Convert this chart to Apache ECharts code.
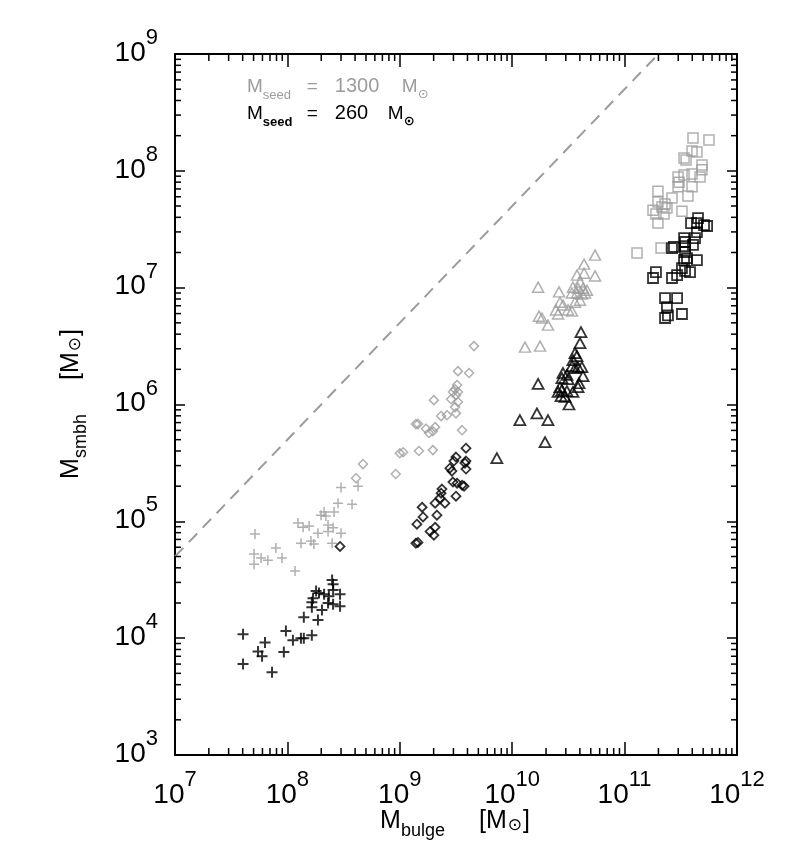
<!DOCTYPE html>
<html>
<head>
<meta charset="utf-8">
<script src="https://cdn.jsdelivr.net/npm/echarts@6/dist/echarts.min.js"></script>
<style>html,body{margin:0;padding:0;background:#fff;}#c{width:786px;height:866px;}</style>
</head>
<body>
<div id="c"></div>
<script>
// ---- tick exponents (labels 10^n) ----
const X_EXP = [7, 8, 9, 10, 11, 12];
const Y_EXP = [3, 4, 5, 6, 7, 8, 9];

// ---- data: [M_bulge, M_smbh] ----
const grayPlus = [
[3.0e8,1.95e5],[4.25e8,2.0e5],[2.82e8,1.43e5],[3.76e8,1.4e5],[2.12e8,1.2e5],[1.99e8,1.13e5],[2.2e8,1.11e5],[2.6e8,1.2e5],[1.24e8,9.7e4],[1.38e8,8.9e4],[1.56e8,9.1e4],[2.3e8,9.3e4],[2.55e8,8.8e4],[2.3e8,8.2e4],[3.0e8,7.9e4],[1.87e8,7.9e4],[5.15e7,7.8e4],[1.32e8,6.5e4],[1.62e8,6.8e4],[1.72e8,6.4e4],[2.5e8,6.5e4],[7.9e7,5.9e4],[5.05e7,5.25e4],[5.83e7,4.85e4],[6.7e7,4.65e4],[8.95e7,4.85e4],[5.05e7,4.3e4],[1.17e8,3.75e4]
];
const blackPlus = [
[2.5e8,3.14e4],[2.55e8,2.9e4],[1.8e8,2.53e4],[1.91e8,2.43e4],[2.12e8,2.38e4],[2.34e8,2.29e4],[2.55e8,2.58e4],[2.94e8,2.38e4],[1.69e8,2.2e4],[1.65e8,2.03e4],[1.65e8,1.84e4],[2.03e8,1.74e4],[2.3e8,2.0e4],[2.55e8,1.95e4],[2.94e8,1.88e4],[1.4e8,1.51e4],[1.87e8,1.43e4],[4.03e7,1.08e4],[6.32e7,9.2e3],[9.7e7,1.15e4],[1.12e8,9.6e3],[1.32e8,1.0e4],[1.4e8,1.0e4],[1.65e8,1.06e4],[5.48e7,7.7e3],[5.95e7,7.0e3],[9.3e7,7.6e3],[4.03e7,6.0e3],[7.3e7,5.1e3]
];
const grayDiamond = [
[4.57e9,3.16e6],[3.29e9,1.93e6],[4.13e9,1.86e6],[3.23e9,1.47e6],[3.1e9,1.35e6],[2.97e9,1.28e6],[3.29e9,1.28e6],[3.16e9,1.2e6],[2.01e9,1.09e6],[2.86e9,1.11e6],[3.29e9,1.05e6],[2.33e9,7.96e5],[2.63e9,8.1e5],[3.16e9,8.4e5],[3.1e9,9.5e5],[1.39e9,6.8e5],[1.45e9,6.8e5],[1.71e9,6.2e5],[1.82e9,5.7e5],[2.06e9,6.4e5],[1.97e9,5.9e5],[3.58e9,6.03e5],[1.0e9,3.83e5],[1.07e9,3.9e5],[1.48e9,4.0e5],[1.97e9,4.07e5],[9.2e8,2.54e5],[4.7e8,3.09e5],[4.08e8,2.34e5]
];
const blackDiamond = [
[3.88e9,4.23e5],[3.16e9,3.55e5],[3.03e9,3.28e5],[3.88e9,3.28e5],[3.8e9,3.15e5],[2.79e9,2.85e5],[2.91e9,2.69e5],[3.88e9,2.8e5],[2.97e9,2.17e5],[3.23e9,2.12e5],[3.73e9,2.0e5],[3.58e9,2.04e5],[3.16e9,1.64e5],[2.37e9,1.89e5],[2.33e9,1.74e5],[2.06e9,1.43e5],[2.52e9,1.43e5],[2.28e9,1.58e5],[1.58e9,1.32e5],[1.61e9,1.09e5],[2.14e9,1.13e5],[1.42e9,9.45e4],[1.86e9,8.2e4],[2.06e9,8.9e4],[2.01e9,7.6e4],[1.39e9,6.5e4],[1.45e9,6.6e4],[2.94e8,6.1e4]
];
const grayTriangle = [
[5.46e10,1.9e7],[4.36e10,1.59e7],[3.77e10,1.28e7],[4.36e10,1.33e7],[5.46e10,1.26e7],[1.7e10,1.01e7],[4.01e10,1.12e7],[3.47e10,1.01e7],[3.85e10,9.9e6],[4.27e10,9.9e6],[4.63e10,9.5e6],[3.4e10,9.0e6],[3.77e10,9.0e6],[4.17e10,8.8e6],[4.44e10,9.0e6],[2.61e10,9.2e6],[4.01e10,7.8e6],[3.62e10,7.5e6],[2.66e10,7.5e6],[2.83e10,7.1e6],[2.45e10,6.45e6],[2.56e10,5.95e6],[3.14e10,6.45e6],[3.4e10,6.3e6],[1.73e10,5.7e6],[1.84e10,5.5e6],[2.08e10,4.78e6],[1.3e10,3.1e6],[1.77e10,3.16e6]
];
const blackTriangle = [
[4.09e10,4.17e6],[4.01e10,3.35e6],[3.62e10,2.75e6],[3.77e10,2.6e6],[3.47e10,2.4e6],[3.4e10,2.13e6],[3.85e10,2.09e6],[4.17e10,2.09e6],[3.62e10,2.05e6],[4.27e10,1.75e6],[2.83e10,1.86e6],[3.07e10,1.79e6],[2.77e10,1.68e6],[3.14e10,1.65e6],[1.7e10,1.5e6],[3.93e10,1.52e6],[3.85e10,1.41e6],[2.66e10,1.41e6],[2.77e10,1.33e6],[2.56e10,1.28e6],[3.07e10,1.3e6],[3.47e10,1.28e6],[2.72e10,1.18e6],[2.95e10,1.16e6],[3.2e10,1.0e6],[1.17e10,7.35e5],[1.66e10,8.4e5],[2.08e10,7.35e5],[1.96e10,4.77e5],[7.3e9,3.47e5]
];
const graySquare = [
[4.06e11,1.91e8],[5.63e11,1.84e8],[3.98e11,1.48e8],[4.4e11,1.45e8],[3.38e11,1.29e8],[3.52e11,1.24e8],[4.88e11,1.12e8],[4.88e11,1.02e8],[3.98e11,9.4e7],[4.69e11,8.85e7],[2.99e11,8.85e7],[3.05e11,8.0e7],[2.99e11,7.3e7],[3.38e11,9.2e7],[3.98e11,7.3e7],[3.66e11,6.1e7],[1.98e11,6.7e7],[2.64e11,5.85e7],[1.98e11,5.4e7],[2.29e11,5.2e7],[2.15e11,4.9e7],[2.38e11,4.8e7],[1.79e11,4.6e7],[1.9e11,4.27e7],[2.24e11,4.27e7],[1.98e11,3.57e7],[3.24e11,4.5e7],[1.29e11,1.98e7],[2.11e11,2.18e7]
];
const blackSquare = [
[4.5e11,3.94e7],[5.09e11,3.43e7],[4.4e11,3.57e7],[3.9e11,3.57e7],[4.4e11,2.99e7],[5.42e11,3.37e7],[4.23e11,2.66e7],[4.06e11,2.32e7],[3.38e11,2.66e7],[3.45e11,2.46e7],[3.45e11,2.27e7],[2.75e11,2.23e7],[2.64e11,2.18e7],[3.45e11,2.02e7],[4.4e11,1.72e7],[3.38e11,1.72e7],[3.59e11,1.79e7],[3.24e11,1.47e7],[3.45e11,1.39e7],[3.82e11,1.36e7],[2.93e11,1.28e7],[2.64e11,1.21e7],[1.9e11,1.36e7],[1.79e11,1.21e7],[2.29e11,8.15e6],[2.93e11,8.15e6],[2.38e11,6.8e6],[3.24e11,5.95e6],[2.29e11,5.5e6],[2.43e11,5.8e6]
];
// dashed reference relation M_smbh = 0.005 M_bulge
const refLine = [[1e7, 5e4], [2e11, 1e9]];

const GRAY = '#9c9c9c';
const BLACK = '#000000';
const FONT = '"Liberation Sans", "DejaVu Sans", sans-serif';
const SYMF = '"DejaVu Sans", sans-serif';

const xMin = Math.pow(10, X_EXP[0]), xMax = Math.pow(10, X_EXP[X_EXP.length - 1]);
const yMin = Math.pow(10, Y_EXP[0]), yMax = Math.pow(10, Y_EXP[Y_EXP.length - 1]);

// minor tick values (2..9 x 10^n)
const xMinor = [], yMinor = [];
for (let i = 0; i < X_EXP.length - 1; i++) for (let m = 2; m <= 9; m++) xMinor.push(m * Math.pow(10, X_EXP[i]));
for (let i = 0; i < Y_EXP.length - 1; i++) for (let m = 2; m <= 9; m++) yMinor.push(m * Math.pow(10, Y_EXP[i]));

const PLUS = 'path://M0,5L10,5M5,0L5,10';

const labelRich = {
  b: { fontSize: 28, lineHeight: 28, fontFamily: FONT, color: '#000', verticalAlign: 'bottom' },
  e: { fontSize: 22, lineHeight: 22, fontFamily: FONT, color: '#000', verticalAlign: 'bottom', padding: [0, 0, 18, 0] }
};
const fmt = v => '{b|10}{e|' + Math.round(Math.log10(v)) + '}';

function scatter(name, data, symbol, size, color, bw) {
  return {
    name, type: 'scatter', data, symbol, symbolSize: size,
    itemStyle: { color: 'rgba(0,0,0,0)', borderColor: color, borderWidth: bw },
    emphasis: { disabled: true }, silent: true, z: 3
  };
}

function titleRich(color) {
  return {
    m: { fontSize: 25, lineHeight: 25, fontFamily: FONT, fill: color, color: color, verticalAlign: 'bottom', padding: [0, 0, 7, 0] },
    s: { fontSize: 18, lineHeight: 18, fontFamily: FONT, fill: color, color: color, verticalAlign: 'bottom' },
    g: { fontSize: 18, lineHeight: 18, width: 34 },
    o: { fontSize: 17, lineHeight: 17, fontFamily: SYMF, fill: color, color: color, verticalAlign: 'bottom', padding: [0, 1, 6, 1] }
  };
}
function legendRich(color, numW, bold) {
  return {
    m: { fontSize: 19, lineHeight: 19, fontFamily: FONT, fill: color, color: color, verticalAlign: 'bottom', padding: [0, 0, 6, 0] },
    s: { fontSize: 13, lineHeight: 13, width: 44, fontFamily: FONT, fontWeight: bold ? 'bold' : 'normal', fill: color, color: color, verticalAlign: 'bottom' },
    q: { fontSize: 19, lineHeight: 19, width: 28, fontFamily: FONT, fill: color, color: color, verticalAlign: 'bottom', padding: [0, 0, 6, 0] },
    n: { fontSize: 20, lineHeight: 20, width: numW, fontFamily: FONT, fill: color, color: color, verticalAlign: 'bottom', padding: [0, 0, 6, 0] },
    o: { fontSize: 13, lineHeight: 13, fontFamily: SYMF, fontWeight: bold ? 'bold' : 'normal', fill: color, color: color, verticalAlign: 'bottom', padding: [0, 0, 1, 0] }
  };
}

const chart = echarts.init(document.getElementById('c'), null, { renderer: 'canvas' });
const axisCommon = {
  type: 'log', logBase: 10, interval: 1,
  axisLine: { show: true, onZero: false, lineStyle: { color: '#000', width: 2 } },
  splitLine: { show: false }
};
chart.setOption({
  animation: false,
  backgroundColor: '#fff',
  grid: { left: 175, right: 49, top: 54, bottom: 111, containLabel: false },
  xAxis: [
    Object.assign({}, axisCommon, {
      min: xMin, max: xMax, position: 'bottom',
      axisTick: { show: true, inside: true, length: 13, lineStyle: { color: '#000', width: 1.5 } },
      axisLabel: { show: true, margin: 26, formatter: fmt, rich: labelRich }
    }),
    Object.assign({}, axisCommon, {
      min: xMin, max: xMax, position: 'top',
      axisTick: { show: true, inside: true, length: 13, lineStyle: { color: '#000', width: 1.5 } },
      axisLabel: { show: false }
    })
  ],
  yAxis: [
    Object.assign({}, axisCommon, {
      min: yMin, max: yMax, position: 'left',
      axisTick: { show: true, inside: true, length: 10, lineStyle: { color: '#000', width: 1.5 } },
      axisLabel: { show: true, margin: 17, formatter: fmt, rich: labelRich, padding: [0, 0, 2, 0] }
    }),
    Object.assign({}, axisCommon, {
      min: yMin, max: yMax, position: 'right',
      axisTick: { show: true, inside: true, length: 10, lineStyle: { color: '#000', width: 1.5 } },
      axisLabel: { show: false }
    })
  ],
  series: [
    {
      type: 'custom', silent: true, z: 5, clip: false,
      data: xMinor.map(v => [v, yMin]),
      renderItem: (params, api) => {
        const v = api.value(0);
        const b = api.coord([v, yMin]), t = api.coord([v, yMax]);
        return { type: 'group', children: [
          { type: 'line', shape: { x1: b[0], y1: b[1], x2: b[0], y2: b[1] - 7 }, style: { stroke: '#000', lineWidth: 1.5 } },
          { type: 'line', shape: { x1: t[0], y1: t[1], x2: t[0], y2: t[1] + 7 }, style: { stroke: '#000', lineWidth: 1.5 } }
        ]};
      }
    },
    {
      type: 'custom', silent: true, z: 5, clip: false,
      data: yMinor.map(v => [xMin, v]),
      renderItem: (params, api) => {
        const v = api.value(1);
        const l = api.coord([xMin, v]), r = api.coord([xMax, v]);
        return { type: 'group', children: [
          { type: 'line', shape: { x1: l[0], y1: l[1], x2: l[0] + 6, y2: l[1] }, style: { stroke: '#000', lineWidth: 1.5 } },
          { type: 'line', shape: { x1: r[0], y1: r[1], x2: r[0] - 6, y2: r[1] }, style: { stroke: '#000', lineWidth: 1.5 } }
        ]};
      }
    },
    {
      type: 'line', data: refLine, symbol: 'none', silent: true, z: 2,
      lineStyle: { color: GRAY, width: 2, type: [12, 8] }
    },
    scatter('gp', grayPlus, PLUS, 10, GRAY, 1.5),
    scatter('gd', grayDiamond, 'diamond', 9, GRAY, 1.5),
    scatter('gt', grayTriangle, 'triangle', [11, 10], GRAY, 1.5),
    scatter('gs', graySquare, 'rect', 10, GRAY, 1.5),
    scatter('bp', blackPlus, PLUS, 11, BLACK, 2),
    scatter('bd', blackDiamond, 'diamond', 9, BLACK, 1.8),
    scatter('bt', blackTriangle, 'triangle', [11, 10], BLACK, 1.8),
    scatter('bs', blackSquare, 'rect', 10, BLACK, 1.8)
  ],
  graphic: [
    {
      type: 'text', x: 247, y: 82, silent: true,
      style: { text: '{m|M}{s|seed}{q|=}{n|1300}{m|M}{o|⊙}', fill: GRAY, rich: legendRich(GRAY, 67, false) }
    },
    {
      type: 'text', x: 247, y: 109, silent: true,
      style: { text: '{m|M}{s|seed}{q|=}{n|260}{m|M}{o|⊙}', fill: BLACK, rich: legendRich(BLACK, 53, true) }
    },
    {
      type: 'text', x: 455, y: 828, silent: true,
      style: { text: '{m|M}{s|bulge}{g| }{m|[M}{o|⊙}{m|]}', align: 'center', verticalAlign: 'middle', rich: titleRich('#000') }
    },
    {
      type: 'text', x: 78, y: 404, rotation: Math.PI / 2, silent: true,
      style: { text: '{m|M}{s|smbh}{g| }{m|[M}{o|⊙}{m|]}', align: 'center', verticalAlign: 'middle', rich: titleRich('#000') }
    }
  ]
});
</script>
</body>
</html>
